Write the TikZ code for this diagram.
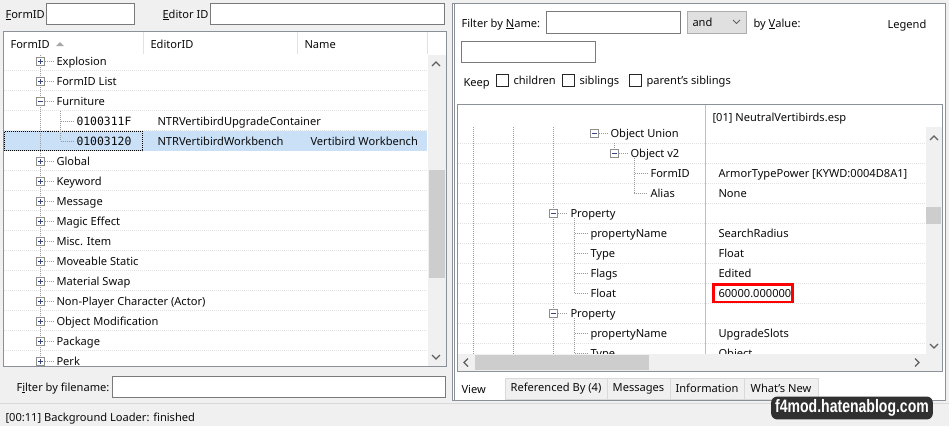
\documentclass[tikz,border=0pt]{standalone}
\usepackage{fontspec}
\setmainfont{Noto Sans}
\newfontfamily\idfont{DejaVu Sans Mono}
\newfontfamily\markfont{Liberation Sans}
\usepackage{graphicx}
\usetikzlibrary{positioning}
\definecolor{winbg}{HTML}{F0F0F0}
\definecolor{frame}{HTML}{8C9098}
\definecolor{editframe}{HTML}{7A7A7A}
\definecolor{selrow}{HTML}{C9E0F7}
\definecolor{thumb}{HTML}{CDCDCD}
\definecolor{arrowc}{HTML}{606060}
\definecolor{dotline}{HTML}{9A9A9A}
\definecolor{rowline}{HTML}{E2E2E2}
\definecolor{boxline}{HTML}{8E8E8E}
\definecolor{signc}{HTML}{34457E}
\definecolor{txt}{HTML}{0A0A0A}
\definecolor{tabline}{HTML}{D9D9D9}
\definecolor{markdark}{HTML}{303030}
\def\uifont{\fontsize{11.1}{13}\selectfont}
\def\treebox[#1](#2)#3% Syntax: [+ or -] (center) {name}
{ \node[expbox] (#3) at (#2) {};
  \draw[signc] ([xshift=-2.5pt]#3.center) -- ([xshift=2.5pt]#3.center);
  \ifx+#1 \draw[signc] ([yshift=-2.5pt]#3.center) -- ([yshift=2.5pt]#3.center);\fi }

\begin{document}
\begin{tikzpicture}[x=1pt,y=-1pt,line width=1pt,
	lbl/.style={anchor=west,inner sep=0pt,text height=8pt,text depth=0pt,font=\uifont,text=txt},
	idlbl/.style={lbl,font=\idfont\fontsize{11.4}{13}\selectfont},
	editbox/.style={draw=editframe,fill=white},
	expbox/.style={draw=boxline,fill=white,minimum size=8pt,inner sep=0pt},
	treeline/.style={draw=dotline,dash pattern=on 1pt off 1pt},
	rowsep/.style={draw=rowline,dash pattern=on 1pt off 1pt},
	chkbox/.style={draw=black!85,fill=white,minimum size=12pt,inner sep=0pt,anchor=west},
	chev/.style={draw=arrowc,line width=1.3pt},
	tabbox/.style={draw=tabline,fill=winbg,anchor=north west,minimum height=21pt,inner sep=0pt,font=\uifont,text=txt},
	wmark/.style={fill=markdark,rounded corners=6pt,inner xsep=4pt,inner ysep=3pt,text=white,font=\markfont\bfseries\fontsize{18}{18}\selectfont}]
	\useasboundingbox (0,0) rectangle (949,426);
	\fill[winbg] (0,0) rectangle (949,426);

	%TOP FILTERS
	\node[lbl] (fidlbl) at (5,14)		{\underline{F}ormID};
	\draw[editbox] (46.5,3.5) rectangle (134.5,24.5);
	\node[lbl] (edidlbl) at (162,14)	{\underline{E}ditor ID};
	\draw[editbox] (210.5,3.5) rectangle (444.5,24.5);

	%LEFT LIST
	\draw[draw=frame,fill=white] (3.5,31.5) rectangle (446.5,366.5);
	\foreach \x in {143,297,427} \draw[rowline] (\x+.5,32) -- (\x+.5,54);	%header dividers
	\node[lbl] (hfid) at (10,44)	{FormID};
	\fill[black!35] (56,46) -- (60,42) -- (64,46) -- cycle;					%sort mark
	\node[lbl] (hedid) at (150,44)	{EditorID};
	\node[lbl] (hname) at (304,44)	{Name};
	\begin{scope}
		\clip (4,55) rectangle (428,366);
		\foreach \k in {0,...,14} \draw[rowsep] (4,70.5+20*\k) -- (427,70.5+20*\k);
		\fill[selrow] (4,131) rectangle (427,151);							%selected row
		\draw[black,dash pattern=on 1pt off 1pt] (4.5,131.5) rectangle (142.5,150.5);
		\draw[treeline] (40.5,55) -- (40.5,366);							%root line
		\foreach \grp/\i in {Explosion/0,FormID List/1,Global/5,Keyword/6,Message/7,Magic Effect/8,Misc. Item/9,Moveable Static/10,Material Swap/11,{Non-Player Character (Actor)}/12,Object Modification/13,Package/14,Perk/15}{
			\treebox[+](40.5,61+20*\i){gb\i}
			\node[lbl] (grp\i) at (56,61+20*\i) {\grp};
			\draw[treeline] (gb\i.east) -- ([xshift=-2pt]grp\i.west);
		}
		\treebox[-](40.5,101){gb2}
		\node[lbl] (grp2) at (56,101) {Furniture};
		\draw[treeline] (gb2.east) -- ([xshift=-2pt]grp2.west);
		%furniture records
		\node[idlbl] (fid3) at (76,121)		{0100311F};
		\node[idlbl] (fid4) at (76,141)		{01003120};
		\node[lbl] (edid3) at (157,121)		{NTRVertibirdUpgradeContainer};
		\node[lbl] (edid4) at (157,141)		{NTRVertibirdWorkbench};
		\node[lbl] (name4) at (310,141)		{Vertibird Workbench};
		\draw[treeline] (60.5,111) |- ([xshift=-3pt]fid4.west);
		\draw[treeline] (60.5,121) -- ([xshift=-3pt]fid3.west);
	\end{scope}
	%scrollbar
	\fill[winbg] (428,55) rectangle (446,366);
	\fill[thumb] (429,170) rectangle (445,278);
	\draw[chev] (432,66) -- (436,62) -- (440,66);
	\draw[chev] (432,355) -- (436,359) -- (440,355);

	\node[lbl] (fnlbl) at (16,387)	{F\underline{i}lter by filename:};
	\draw[editbox] (112.5,376.5) rectangle (445.5,397.5);

	%RIGHT PANEL
	\draw[draw=frame,fill=white] (452.5,3.5) rectangle (945.5,400.5);
	\draw[draw=frame] (454.5,4) -- (454.5,400);
	\node[lbl] (fnamelbl) at (461,23)	{Filter by \underline{N}ame:};
	\draw[editbox] (546.5,11.5) rectangle (680.5,33.5);
	\draw[draw=black!32,fill=black!12] (687.5,11.5) rectangle (746.5,33.5);	%combo
	\node[lbl] (andlbl) at (692,22)		{and};
	\draw[arrowc,line width=1pt] (733,20) -- (736.5,23.5) -- (740,20);
	\node[lbl] (fvallbl) at (753,23)	{by \underline{V}alue:};
	\node[lbl] (legend) at (887,24)		{Legend};
	\draw[editbox] (461.5,41.5) rectangle (595.5,62.5);
	\node[lbl] (keep) at (463,82)		{Keep};
	\node[chkbox] (chk1) at (496,80) {};
	\node[lbl,right=4pt of chk1] (chklbl1) {children};
	\node[chkbox] (chk2) at (562,80) {};
	\node[lbl,right=4pt of chk2] (chklbl2) {siblings};
	\node[chkbox] (chk3) at (629,80) {};
	\node[lbl,right=4pt of chk3] (chklbl3) {parent's siblings};

	%RECORD VIEW
	\draw[draw=frame,fill=white] (457.5,104.5) rectangle (942.5,371.5);
	\draw[draw=black!25] (705.5,105) -- (705.5,354);						%column divider
	\node[lbl] (plugin) at (712,117)	{[01] NeutralVertibirds.esp};
	\begin{scope}
		\clip (458,105) rectangle (926,354);
		\foreach \k in {0,...,10} \draw[rowsep] (458,143.5+20*\k) -- (926,143.5+20*\k);
		\foreach \x in {473.5,513.5,553.5} \draw[treeline] (\x,127) -- (\x,354);
		\treebox[-](594.5,133){ou}
		\node[lbl] (ouname) at (610,133)	{Object Union};
		\draw[treeline] (ou.east) -- ([xshift=-2pt]ouname.west);
		\draw[treeline] (614.5,143) -- (614.5,149);
		\treebox[-](614.5,153){ov}
		\node[lbl] (ovname) at (630,153)	{Object v2};
		\draw[treeline] (ov.east) -- ([xshift=-2pt]ovname.west);
		\node[lbl] (fld2) at (650,173)		{FormID};
		\node[lbl] (fld3) at (650,193)		{Alias};
		\node[lbl] (val2) at (718,173)		{ArmorTypePower [KYWD:0004D8A1]};
		\node[lbl] (val3) at (718,193)		{None};
		\draw[treeline] (634.5,158) |- ([xshift=-3pt]fld3.west);
		\draw[treeline] (634.5,173) -- ([xshift=-3pt]fld2.west);
		\foreach \p/\k in {pa/4,pb/9}{
			\treebox[-](553.5,133+20*\k){\p}
			\node[lbl] (\p name) at (570,133+20*\k) {Property};
			\draw[treeline] (\p.east) -- ([xshift=-2pt]\p name.west);
		}
		\draw[treeline] (574.5,218) -- (574.5,293);
		\draw[treeline] (574.5,318) -- (574.5,354);
		\foreach \fld/\val/\k in {propertyName/SearchRadius/5,Type/Float/6,Flags/Edited/7,Float/60000.000000/8,propertyName/UpgradeSlots/10,Type/Object/11}{
			\node[lbl] (fld\k) at (590,133+20*\k) {\fld};
			\node[lbl] (val\k) at (718,133+20*\k) {\val};
			\draw[treeline] (574.5,133+20*\k) -- ([xshift=-3pt]fld\k.west);
		}
	\end{scope}
	\draw[red,line width=2.5pt] (713.5,284.5) rectangle (792.5,302);		%highlight
	%scrollbars
	\fill[winbg] (926,127) rectangle (942,371);
	\fill[winbg] (458,354) rectangle (926,371);
	\fill[thumb] (926,207) rectangle (941,224);
	\fill[thumb] (475,355) rectangle (649,370);
	\draw[chev] (930,140) -- (934,136) -- (938,140);
	\draw[chev] (930,344) -- (934,348) -- (938,344);
	\draw[chev] (468,358.5) -- (464,362.5) -- (468,366.5);
	\draw[chev] (915,358.5) -- (919,362.5) -- (915,366.5);

	%TABS
	\node[tabbox,minimum width=102pt] (tabref) at (504.5,377.5)	{Referenced By (4)};
	\node[tabbox,minimum width=63pt] (tabmsg) at (606.5,377.5)	{Messages};
	\node[tabbox,minimum width=74pt] (tabinfo) at (669.5,377.5)	{Information};
	\node[tabbox,minimum width=74pt] (tabnew) at (743.5,377.5)	{What's New};
	\fill[white] (455,375) rectangle (504,399);
	\node[lbl] (tabview) at (461,389)	{View};

	%STATUS BAR
	\draw[black!15] (0,403.5) -- (949,403.5);
	\node[lbl] (status) at (5,417)	{[00:11] Background Loader: finished};

	%WATERMARK
	\node[wmark] (wmark) at (852,408) {\scalebox{0.78}[1]{f4mod.hatenablog.com}};
\end{tikzpicture}
\end{document}
